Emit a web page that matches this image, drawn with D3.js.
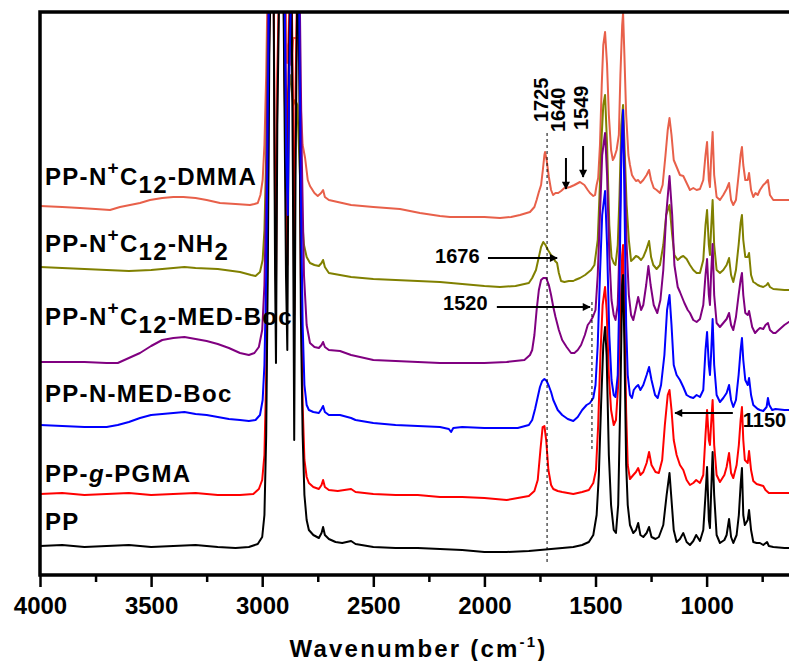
<!DOCTYPE html>
<meta charset="utf-8">
<title>FTIR spectra</title>
<style>
html, body { margin: 0; padding: 0; background: #fff; }
svg { display: block; }
text { font-family: "Liberation Sans", Arial, sans-serif; font-weight: bold; fill: #000; }
.spec { fill: none; stroke-width: 2; stroke-linejoin: round; }
.tick line { stroke: #000; stroke-width: 2.5; }
.tick text { font-size: 24px; }
</style>
<body>
<svg width="789" height="661"></svg>
<script src="https://cdn.jsdelivr.net/npm/d3@7"></script>
<script>

// spectra: [wavenumber (cm-1), absorbance (a.u., stacked with offset)]
var pp = [
[4000,29],[3900,30],[3800,28],[3700,29],[3600,30],[3500,28],[3400,29],[3300,30],[3200,28],[3120,27],[3060,28],[3020,31],[3000,38],[2990,60],[2982,140],[2975,300],[2968,520],[2960,620],[2950,640],[2942,300],[2938,212],[2932,450],[2920,640],[2905,600],[2893,300],[2887,225],[2880,500],[2870,640],[2862,400],[2856,135],[2850,400],[2840,640],[2833,500],[2826,260],[2818,140],[2810,80],[2800,55],[2790,45],[2770,40],[2745,37],[2733,42],[2726,48],[2718,40],[2700,36],[2670,33],[2640,32],[2600,34],[2580,31],[2500,28],[2400,27],[2300,27],[2200,26],[2100,25],[2000,23],[1900,23],[1800,24],[1750,25],[1700,26],[1650,27],[1600,28],[1560,30],[1530,33],[1510,40],[1495,60],[1485,100],[1475,170],[1465,230],[1457,248],[1450,220],[1440,120],[1430,70],[1418,45],[1408,42],[1398,70],[1388,180],[1380,290],[1376,300],[1370,230],[1362,110],[1355,70],[1345,50],[1330,42],[1318,45],[1308,52],[1298,40],[1285,38],[1270,42],[1259,48],[1248,38],[1230,36],[1215,38],[1195,50],[1180,80],[1167,102],[1158,75],[1148,45],[1135,33],[1120,36],[1105,42],[1090,33],[1075,30],[1060,34],[1047,40],[1030,34],[1015,45],[1005,80],[998,108],[990,55],[985,47],[980,80],[973,123],[966,80],[955,40],[940,32],[920,35],[910,40],[899,56],[890,38],[880,32],[865,40],[855,60],[847,90],[841,107],[835,60],[828,50],[815,55],[809,65],[800,45],[790,33],[775,32],[760,32],[745,30],[728,33],[720,29],[700,28],[650,27],[600,27]
];

var pgma = [
[4000,81],[3900,82],[3800,80],[3700,81],[3600,82],[3500,80],[3400,81],[3300,82],[3200,80],[3100,80],[3040,81],[3015,86],[3000,95],[2990,120],[2982,200],[2975,360],[2968,560],[2960,640],[2950,640],[2942,360],[2938,290],[2932,500],[2920,640],[2905,620],[2893,380],[2887,310],[2880,540],[2870,640],[2862,480],[2856,260],[2850,480],[2840,640],[2832,520],[2826,300],[2818,170],[2810,115],[2800,98],[2790,92],[2770,88],[2745,86],[2733,90],[2726,95],[2718,88],[2700,85],[2660,84],[2600,86],[2580,83],[2500,81],[2400,80],[2300,80],[2200,78],[2100,78],[2000,77],[1950,76],[1900,75],[1850,77],[1800,79],[1775,84],[1760,95],[1748,125],[1738,148],[1730,149],[1722,135],[1712,105],[1700,90],[1690,86],[1670,84],[1650,83],[1600,81],[1560,83],[1530,85],[1510,92],[1498,105],[1488,150],[1478,220],[1468,270],[1457,288],[1450,265],[1440,200],[1430,165],[1418,150],[1408,155],[1398,190],[1388,260],[1380,320],[1376,330],[1370,270],[1362,162],[1355,110],[1345,96],[1330,100],[1318,103],[1308,107],[1298,100],[1285,103],[1270,112],[1259,123],[1248,110],[1230,103],[1215,102],[1200,115],[1188,150],[1175,180],[1167,185],[1158,165],[1148,135],[1135,120],[1120,110],[1105,105],[1090,95],[1075,90],[1060,92],[1047,95],[1030,92],[1015,100],[1005,140],[998,165],[990,135],[985,130],[980,150],[973,175],[966,130],[955,100],[940,93],[920,100],[910,108],[899,122],[890,102],[880,97],[865,110],[855,130],[847,155],[841,168],[835,135],[828,115],[815,112],[809,124],[800,105],[790,94],[775,91],[760,90],[745,89],[735,85],[720,82],[700,82],[650,82],[600,82]
];

var medBoc = [
[4000,150],[3900,149],[3800,148],[3700,148],[3650,150],[3600,153],[3550,157],[3500,160],[3450,161],[3400,162],[3350,163],[3300,161],[3250,160],[3200,158],[3150,156],[3100,155],[3060,154],[3030,155],[3010,160],[2998,175],[2990,210],[2982,300],[2975,460],[2968,620],[2950,640],[2935,620],[2920,640],[2900,600],[2892,420],[2885,360],[2878,500],[2865,640],[2850,640],[2840,640],[2833,560],[2826,380],[2818,250],[2810,190],[2800,170],[2790,165],[2770,163],[2745,162],[2733,166],[2726,169],[2718,163],[2700,160],[2650,160],[2600,157],[2580,155],[2500,152],[2400,150],[2300,149],[2200,148],[2160,146],[2150,143],[2140,147],[2100,148],[2000,147],[1900,147],[1850,147],[1800,150],[1785,155],[1772,166],[1760,178],[1750,188],[1740,194],[1730,196],[1720,194],[1710,189],[1700,183],[1690,175],[1680,170],[1670,165],[1650,160],[1625,156],[1600,154],[1580,158],[1560,165],[1540,170],[1525,172],[1510,177],[1500,190],[1490,230],[1480,300],[1470,360],[1457,384],[1448,330],[1438,240],[1428,195],[1418,180],[1410,178],[1400,200],[1392,290],[1384,420],[1376,465],[1370,380],[1362,250],[1355,200],[1345,180],[1336,177],[1328,185],[1318,188],[1308,190],[1298,185],[1285,190],[1270,200],[1259,208],[1248,195],[1232,180],[1220,177],[1205,190],[1190,220],[1178,265],[1167,280],[1158,250],[1148,210],[1135,200],[1120,195],[1105,188],[1090,180],[1075,178],[1060,177],[1045,180],[1030,178],[1015,185],[1005,225],[998,243],[990,210],[985,200],[980,220],[973,256],[966,210],[955,180],[940,173],[925,177],[910,182],[899,190],[890,175],[880,168],[868,175],[856,200],[847,225],[841,237],[835,215],[826,195],[815,190],[809,197],[800,180],[790,170],[780,168],[770,166],[760,165],[745,164],[730,168],[724,177],[718,170],[705,165],[690,166],[650,165],[600,165]
];

var c12MedBoc = [
[4000,213],[3900,213],[3800,213],[3700,212],[3650,212],[3600,217],[3550,222],[3500,229],[3450,235],[3400,237],[3350,238],[3300,236],[3250,234],[3200,231],[3150,227],[3100,222],[3060,220],[3035,222],[3015,228],[3000,245],[2990,290],[2982,380],[2975,520],[2968,640],[2950,640],[2935,620],[2920,640],[2900,600],[2892,470],[2885,420],[2878,540],[2865,640],[2850,640],[2840,640],[2830,560],[2822,420],[2812,300],[2800,250],[2785,232],[2765,228],[2745,227],[2733,230],[2726,233],[2718,228],[2700,225],[2650,224],[2600,220],[2500,215],[2400,214],[2300,213],[2200,212],[2100,212],[2000,212],[1900,213],[1820,215],[1795,220],[1785,225],[1775,240],[1765,265],[1755,285],[1745,295],[1735,297],[1722,297],[1710,290],[1700,280],[1690,268],[1680,258],[1665,245],[1650,235],[1630,228],[1610,222],[1595,222],[1580,225],[1565,230],[1548,240],[1535,250],[1525,253],[1512,258],[1500,265],[1490,300],[1480,360],[1470,420],[1457,442],[1448,400],[1438,320],[1428,275],[1418,260],[1410,255],[1400,270],[1392,330],[1384,420],[1376,455],[1368,400],[1360,330],[1350,280],[1340,260],[1330,255],[1320,265],[1308,278],[1295,265],[1285,270],[1272,290],[1262,309],[1252,290],[1238,270],[1222,262],[1208,275],[1195,305],[1182,360],[1167,399],[1155,360],[1145,310],[1130,288],[1120,283],[1100,272],[1085,265],[1075,262],[1060,255],[1045,253],[1030,256],[1015,270],[1005,300],[998,316],[990,280],[985,270],[980,300],[973,331],[966,280],[955,252],[940,248],[925,252],[910,256],[899,262],[890,250],[880,245],[868,258],[856,280],[847,295],[841,302],[835,280],[826,262],[815,260],[809,264],[795,248],[782,242],[770,245],[760,247],[745,246],[735,250],[724,252],[715,245],[700,242],[690,242],[670,246],[650,250],[630,253],[600,255]
];

var c12NH2 = [
[4000,308],[3900,307],[3800,306],[3700,305],[3600,304],[3500,305],[3400,307],[3350,308],[3300,307],[3200,306],[3100,303],[3050,300],[3030,299],[3010,303],[2998,315],[2990,345],[2982,420],[2975,540],[2968,640],[2950,640],[2935,620],[2920,640],[2905,600],[2897,460],[2890,470],[2875,500],[2860,470],[2852,475],[2842,470],[2830,400],[2822,360],[2812,330],[2800,318],[2785,312],[2765,310],[2745,309],[2733,312],[2726,315],[2718,308],[2700,302],[2650,300],[2600,298],[2500,296],[2400,295],[2300,294],[2200,293],[2100,291],[2000,289],[1930,288],[1860,289],[1800,292],[1785,297],[1768,305],[1755,318],[1745,328],[1735,333],[1725,330],[1714,325],[1700,320],[1690,318],[1682,314],[1673,312],[1665,302],[1655,294],[1640,293],[1620,294],[1600,294],[1592,295],[1570,297],[1547,300],[1520,305],[1505,310],[1490,335],[1482,380],[1472,440],[1465,470],[1457,480],[1448,430],[1438,350],[1428,318],[1418,312],[1410,310],[1400,330],[1392,380],[1384,450],[1376,470],[1368,420],[1360,370],[1350,335],[1340,314],[1330,316],[1318,319],[1308,318],[1295,315],[1285,318],[1272,325],[1259,334],[1250,318],[1240,310],[1225,306],[1210,310],[1195,330],[1182,360],[1167,370],[1155,340],[1145,320],[1130,315],[1115,318],[1105,319],[1090,316],[1075,310],[1060,305],[1045,302],[1030,302],[1015,315],[1005,350],[998,365],[990,330],[985,320],[980,345],[973,375],[966,330],[955,305],[940,302],[925,305],[910,310],[899,317],[890,300],[880,293],[868,305],[856,330],[847,352],[841,360],[835,335],[826,318],[815,318],[809,322],[800,300],[790,293],[782,292],[770,290],[760,289],[745,288],[730,290],[724,292],[715,288],[700,286],[650,285],[600,285]
];

var c12DMMA = [
[4000,369],[3900,368],[3820,367],[3750,366],[3685,365],[3640,368],[3595,370],[3550,372],[3505,375],[3450,377],[3400,378],[3355,378],[3300,377],[3250,375],[3190,372],[3120,371],[3055,370],[3035,371],[3020,372],[3008,380],[2998,395],[2990,430],[2982,500],[2975,600],[2968,640],[2950,640],[2935,620],[2920,640],[2900,640],[2893,560],[2888,512],[2880,532],[2875,525],[2870,510],[2860,537],[2848,537],[2840,537],[2832,500],[2826,467],[2818,430],[2807,417],[2795,395],[2785,389],[2765,382],[2750,379],[2735,382],[2726,385],[2718,378],[2700,375],[2680,374],[2600,370],[2500,368],[2380,366],[2290,362],[2200,359],[2155,358],[2065,358],[2000,358],[1930,357],[1880,358],[1840,360],[1795,363],[1775,368],[1765,375],[1755,383],[1745,390],[1737,405],[1730,420],[1727,423],[1720,415],[1710,398],[1700,385],[1691,380],[1680,382],[1668,382],[1655,384],[1640,387],[1633,387],[1615,388],[1595,390],[1570,393],[1550,390],[1535,385],[1525,382],[1510,379],[1502,380],[1495,390],[1488,397],[1480,430],[1472,490],[1465,530],[1457,543],[1448,510],[1440,460],[1430,425],[1422,415],[1415,418],[1405,425],[1395,440],[1388,500],[1380,550],[1376,562],[1370,520],[1362,460],[1352,420],[1345,410],[1336,400],[1328,397],[1318,394],[1308,395],[1298,392],[1285,395],[1270,400],[1259,405],[1250,395],[1238,387],[1225,385],[1210,382],[1198,390],[1185,420],[1175,445],[1167,457],[1158,440],[1148,415],[1133,407],[1120,400],[1105,399],[1090,392],[1075,385],[1060,387],[1045,385],[1030,386],[1015,395],[1005,420],[998,433],[990,395],[985,388],[980,415],[973,443],[966,400],[955,378],[940,375],[925,380],[910,386],[899,392],[890,375],[880,370],[868,375],[856,400],[847,420],[841,428],[835,410],[826,395],[815,395],[809,402],[800,385],[790,378],[780,382],[770,380],[760,385],[745,390],[735,392],[724,395],[715,380],[700,375],[650,375],[600,375]
];

var majorTicks = [4000, 3500, 3000, 2500, 2000, 1500, 1000];
var minorTicks = [3750, 3250, 2750, 2250, 1750, 1250, 750];

// drawing order: back to front
var series = [
  {name: "c12DMMA", data: c12DMMA, color: "#E8604A"},
  {name: "c12NH2", data: c12NH2, color: "#808000"},
  {name: "c12MedBoc", data: c12MedBoc, color: "#800080"},
  {name: "pgma", data: pgma, color: "#FF0000"},
  {name: "pp", data: pp, color: "#000000"},
  {name: "medBoc", data: medBoc, color: "#0000FF"}
];

var svg = d3.select("svg");
var mLeft = 40, mRight = 795.5, mTop = 12, mBottom = 575;

var x = d3.scaleLinear().domain([4000, 600]).range([mLeft, mRight]);
var y = d3.scaleLinear().domain([0, 563]).range([mBottom, mTop]);

svg.append("clipPath").attr("id", "plot")
  .append("rect")
    .attr("x", mLeft).attr("y", mTop)
    .attr("width", mRight - mLeft).attr("height", mBottom - mTop);

var line = d3.line()
    .x(function(d) { return x(d[0]); })
    .y(function(d) { return y(d[1]); });

svg.append("g")
    .attr("clip-path", "url(#plot)")
  .selectAll("path")
  .data(series)
  .enter().append("path")
    .attr("class", "spec")
    .attr("stroke", function(d) { return d.color; })
    .attr("d", function(d) { return line(d.data); });

// axis
var ax = svg.append("g").attr("transform", "translate(0," + mBottom + ")");
ax.call(d3.axisBottom(x).tickValues(majorTicks).tickSize(12).tickPadding(10).tickFormat(d3.format("d")));
ax.append("g").call(d3.axisBottom(x).tickValues(minorTicks).tickSize(7).tickFormat(""));
ax.selectAll(".domain").remove();

// frame (right side falls outside the picture)
svg.append("path")
    .attr("d", "M" + mRight + "," + mTop + "H" + mLeft + "V" + mBottom + "H" + mRight)
    .attr("fill", "none").attr("stroke", "#000").attr("stroke-width", 3.5);

svg.append("text")
    .attr("x", (mLeft + 789) / 2 + 4).attr("y", 657)
    .attr("text-anchor", "middle")
    .style("font-size", "24px").style("letter-spacing", "2.2px")
    .call(function(t) {
      t.append("tspan").text("Wavenumber (cm");
      t.append("tspan").attr("dy", -10).style("font-size", "15px").text("-1");
      t.append("tspan").attr("dy", 10).text(")");
    });

// sample labels
var labels = [
  {y: 185, parts: [["PP-N"], ["+", "sup"], ["C"], ["12", "sub"], ["-DMMA"]]},
  {y: 252, parts: [["PP-N"], ["+", "sup"], ["C"], ["12", "sub"], ["-NH"], ["2", "sub"]]},
  {y: 325, parts: [["PP-N"], ["+", "sup"], ["C"], ["12", "sub"], ["-MED-Boc"]]},
  {y: 402, parts: [["PP-N-MED-Boc"]]},
  {y: 482, parts: [["PP-"], ["g", "it"], ["-PGMA"]]},
  {y: 530, parts: [["PP"]]}
];

labels.forEach(function(l) {
  var t = svg.append("text").attr("x", 45).attr("y", l.y)
      .style("font-size", "24px").style("letter-spacing", "1.3px");
  var shift = 0;
  l.parts.forEach(function(p) {
    var target = p[1] === "sup" ? -11 : p[1] === "sub" ? 8 : 0;
    var s = t.append("tspan").attr("dy", target - shift).text(p[0]);
    if (p[1] === "sup") s.style("font-size", "19px");
    if (p[1] === "it") s.style("font-style", "italic");
    shift = target;
  });
});

// peak annotations
var defs = svg.append("defs");
defs.append("marker").attr("id", "head")
    .attr("viewBox", "0 0 10 10").attr("refX", 9).attr("refY", 5)
    .attr("markerWidth", 10).attr("markerHeight", 8)
    .attr("markerUnits", "userSpaceOnUse")
    .attr("orient", "auto")
  .append("path").attr("d", "M0,0L10,5L0,10Z").attr("fill", "#000");

var guides = [[1718, 442, 13], [1516, 273, 123]];
svg.selectAll("line.guide").data(guides).enter().append("line")
    .attr("class", "guide")
    .attr("x1", function(d) { return x(d[0]); }).attr("x2", function(d) { return x(d[0]); })
    .attr("y1", function(d) { return y(d[1]); }).attr("y2", function(d) { return y(d[2]); })
    .attr("stroke", "#000").attr("stroke-width", 1).attr("stroke-dasharray", "3,3");

// arrows: [from wn, from a.u., to wn, to a.u.]
var arrows = [
  [1633, 417, 1633, 386],
  [1556, 429, 1556, 398],
  [1984, 317, 1673, 317],
  [1944, 268, 1525, 268],
  [882, 162, 1142, 162]
];
svg.selectAll("line.arrow").data(arrows).enter().append("line")
    .attr("class", "arrow")
    .attr("x1", function(d) { return x(d[0]); }).attr("y1", function(d) { return y(d[1]); })
    .attr("x2", function(d) { return x(d[2]); }).attr("y2", function(d) { return y(d[3]); })
    .attr("stroke", "#000").attr("stroke-width", 2)
    .attr("marker-end", "url(#head)");

var vLabels = [["1725", 1712, 453], ["1640", 1638, 443], ["1549", 1536, 445]];
svg.selectAll("text.vlab").data(vLabels).enter().append("text")
    .attr("class", "vlab")
    .attr("transform", function(d) { return "translate(" + x(d[1]) + "," + y(d[2]) + ") rotate(-90)"; })
    .style("font-size", "20px")
    .text(function(d) { return d[0]; });

var hLabels = [["1676", 2222, 312], ["1520", 2186, 265], ["1150", 837, 148]];
svg.selectAll("text.hlab").data(hLabels).enter().append("text")
    .attr("class", "hlab")
    .attr("x", function(d) { return x(d[1]); }).attr("y", function(d) { return y(d[2]); })
    .style("font-size", "20px")
    .text(function(d) { return d[0]; });

</script>
</body>
